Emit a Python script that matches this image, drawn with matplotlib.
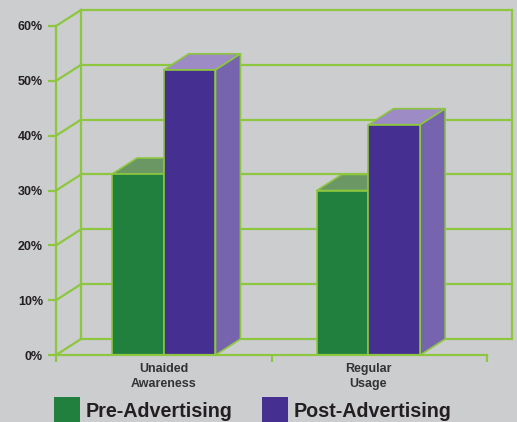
import matplotlib.pyplot as plt
from matplotlib.patches import Polygon, Rectangle

plt.rcParams['font.family'] = ['Liberation Sans', 'DejaVu Sans']

# ---- data ----
categories = ['Unaided\nAwareness', 'Regular\nUsage']
pre_advertising = [33, 30]
post_advertising = [52, 42]
series_names = ['Pre-Advertising', 'Post-Advertising']
y_ticks = [0, 10, 20, 30, 40, 50, 60]
y_tick_labels = ['0%', '10%', '20%', '30%', '40%', '50%', '60%']

# ---- style ----
bg = '#CCCDCF'
lime = '#8DC63F'
text_col = '#231F20'
green = {'front': '#22803E', 'top': '#6A9763', 'side': '#4E8A4E'}
purple = {'front': '#452F91', 'top': '#9C8BC4', 'side': '#7665AE'}

W, H = 517, 422
fig = plt.figure(figsize=(W / 100, H / 100), dpi=100, facecolor=bg)
ax = fig.add_axes([56 / W, (H - 355) / H, 431 / W, 329 / H])
ax.set_facecolor('none')
ax.set_xlim(0, 2)
ax.set_ylim(0, 60)

# depth offset of the back wall (data units)
dx, dy = 0.116, 2.92
xmax = 2

# ==== walls / grid ====
for v in y_ticks:
    ax.plot([0, dx], [v, v + dy], color=lime, lw=1.6, clip_on=False, zorder=1)
    ax.plot([dx, xmax + dx], [v + dy, v + dy], color=lime, lw=1.6,
            clip_on=False, zorder=1)
for xv in [dx, xmax + dx]:
    ax.plot([xv, xv], [dy, y_ticks[-1] + dy], color=lime, lw=1.6,
            clip_on=False, zorder=1)


# ==== 3d bars ====
def bar3d(x0, x1, v, cols):
    top = [(x0, v), (x1, v), (x1 + dx, v + dy), (x0 + dx, v + dy)]
    side = [(x1, 0), (x1 + dx, dy), (x1 + dx, v + dy), (x1, v)]
    front = [(x0, 0), (x1, 0), (x1, v), (x0, v)]
    for pts, key in [(top, 'top'), (side, 'side'), (front, 'front')]:
        ax.add_patch(Polygon(pts, closed=True, facecolor=cols[key],
                             edgecolor=lime, lw=1.2, clip_on=False, zorder=3,
                             joinstyle='round'))


group_centers = [0.5, 1.45]
bar_w = 0.24
for c, pre, post in zip(group_centers, pre_advertising, post_advertising):
    bar3d(c - bar_w, c, pre, green)
    bar3d(c, c + bar_w, post, purple)

# ==== axes ====
for s in ['top', 'right']:
    ax.spines[s].set_visible(False)
for s in ['left', 'bottom']:
    ax.spines[s].set_color(lime)
    ax.spines[s].set_linewidth(1.6)
    ax.spines[s].set_zorder(4)

ax.set_yticks(y_ticks, y_tick_labels)
ax.tick_params(axis='y', colors=lime, length=5.8, width=1.6, pad=3.6,
               labelcolor=text_col, labelsize=9)
for t in ax.get_yticklabels():
    t.set_fontweight('bold')

ax.set_xticks([0, 1, 2], ['', '', ''])
ax.tick_params(axis='x', which='major', colors=lime, length=5, width=1.6)
ax.set_xticks(group_centers, categories, minor=True)
ax.tick_params(axis='x', which='minor', length=0, pad=6,
               labelcolor='#333333', labelsize=9)
for t in ax.get_xticklabels(minor=True):
    t.set_fontweight('bold')
    t.set_linespacing(1.3)

# ==== legend ====
legend_x = [54, 262]
for xp, name, cols in zip(legend_x, series_names, [green, purple]):
    fig.add_artist(Rectangle((xp / W, (H - 422) / H), 26 / W, 25 / H,
                             transform=fig.transFigure,
                             facecolor=cols['front'], edgecolor='none'))
    fig.text((xp + 32) / W, (H - 417) / H, name, fontsize=14.2,
             fontweight='bold', color=text_col, va='baseline', ha='left')

fig.savefig('out.png', dpi=100, facecolor=bg)
